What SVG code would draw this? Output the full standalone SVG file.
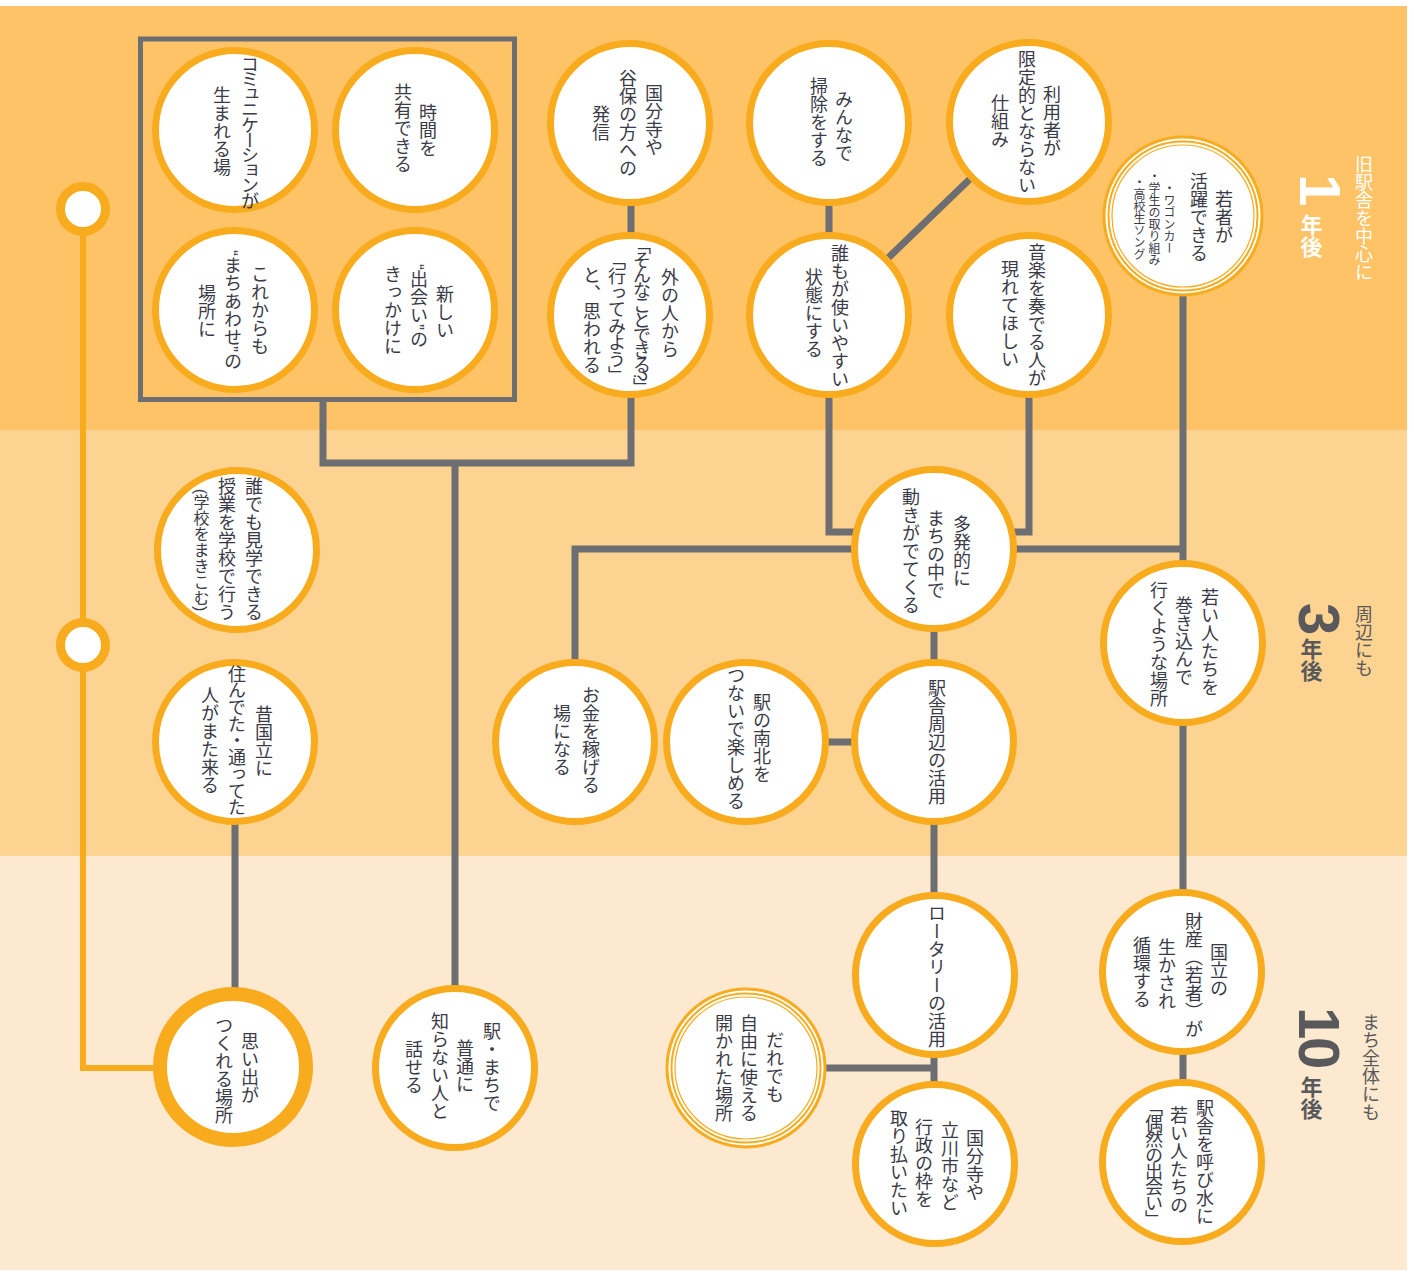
<svg xmlns="http://www.w3.org/2000/svg" width="1414" height="1276" viewBox="0 0 1414 1276">
<style>
.n{fill:#fff;stroke:#f8ab1d;stroke-width:7}
.d{fill:none;stroke:#f8ab1d}
.t{font-family:"Liberation Sans","Noto Sans CJK JP",sans-serif;font-size:18px;fill:#3b3b48;writing-mode:vertical-rl;text-anchor:middle}
.s{font-size:12px}
.c{fill:none;stroke:#6d6e71;stroke-width:7}
.o{fill:none;stroke:#f8ab1d;stroke-width:6}
.lab{font-family:"Liberation Sans","Noto Sans CJK JP",sans-serif;writing-mode:vertical-rl;text-anchor:middle}
.dig{font-family:"Liberation Sans",sans-serif;font-weight:bold;font-size:58px}
</style>
<rect width="1414" height="1276" fill="#fff"/>
<g id="bands">
<rect x="0" y="6" width="1407" height="424" fill="#fdc366"/>
<rect x="0" y="430" width="1407" height="426" fill="#fdd391"/>
<rect x="0" y="856" width="1407" height="414" fill="#fde9cf"/>
</g>
<g id="connectors">
<path class="o" d="M83,209 V1068 H200"/>
<rect x="140.5" y="39" width="374" height="360.5" fill="none" stroke="#6d6e71" stroke-width="5"/>
<path class="c" d="M323,402 V463 H631 V315"/>
<path class="c" d="M455,463 V1068"/>
<path class="c" d="M631,123 V315"/>
<path class="c" d="M829,123 V315"/>
<path class="c" d="M1029,122 L829,315"/>
<path class="c" d="M829,315 V532 H934"/>
<path class="c" d="M1029,315 V532 H934"/>
<path class="c" d="M575,742 V549 H1183"/>
<path class="c" d="M1183,216 V1162"/>
<path class="c" d="M934,548 V1164"/>
<path class="c" d="M746,742 H934"/>
<path class="c" d="M746,1068 H934"/>
<path class="c" d="M235,742 V1067"/>
</g>
<g id="marker-1"><circle cx="83" cy="209" r="22.5" fill="#fff" stroke="#f8ab1d" stroke-width="9"/></g>
<g id="marker-3"><circle cx="83" cy="645" r="22.5" fill="#fff" stroke="#f8ab1d" stroke-width="9"/></g>

<g id="n-jikan"><circle class="n" cx="415" cy="130" r="79.5"/>
<text class="t" x="426" y="130">時間を</text><text class="t" x="401" y="128">共有できる</text></g>
<g id="n-comm"><circle class="n" cx="235" cy="130" r="79.5"/>
<text class="t" x="248" y="131" style="letter-spacing:-2.8px">コミュニケーションが</text><text class="t" x="220" y="131">生まれる場</text></g>
<g id="n-deai"><circle class="n" cx="415" cy="310" r="79.5"/>
<text class="t" x="443" y="312">新しい</text><text class="t" x="417" y="306">“出会い”の</text><text class="t" x="391" y="310">きっかけに</text></g>
<g id="n-machiawase"><circle class="n" cx="235" cy="310" r="79.5"/>
<text class="t" x="258" y="310">これからも</text><text class="t" x="231" y="310">“まちあわせ”の</text><text class="t" x="205" y="311">場所に</text></g>
<g id="n-hasshin"><circle class="n" cx="630" cy="123" r="79.5"/>
<text class="t" x="652" y="120">国分寺や</text><text class="t" x="626" y="123">谷保の方への</text><text class="t" x="599" y="123">発信</text></g>
<g id="n-soto"><circle class="n" cx="630" cy="315" r="79.5"/>
<text class="t" x="668" y="313">外の人から</text><text class="t" x="640" y="315" style="letter-spacing:-3px">「そんなことできる?」</text><text class="t" x="615" y="317" style="letter-spacing:-1.5px">「行ってみよう」</text><text class="t" x="590" y="320">と、思われる</text></g>
<g id="n-souji"><circle class="n" cx="829" cy="123" r="79.5"/>
<text class="t" x="842" y="126">みんなで</text><text class="t" x="817" y="122">掃除をする</text></g>
<g id="n-tsukai"><circle class="n" cx="829" cy="315" r="79.5"/>
<text class="t" x="838" y="316">誰もが使いやすい</text><text class="t" x="812" y="313">状態にする</text></g>
<g id="n-riyou"><circle class="n" cx="1029" cy="122" r="79.5"/>
<text class="t" x="1050" y="121">利用者が</text><text class="t" x="1025" y="122">限定的とならない</text><text class="t" x="998" y="121">仕組み</text></g>
<g id="n-ongaku"><circle class="n" cx="1029" cy="315" r="79.5"/>
<text class="t" x="1035" y="315">音楽を奏でる人が</text><text class="t" x="1008" y="314">現れてほしい</text></g>
<g id="n-wakamono"><circle cx="1183" cy="216" r="79" fill="#fff" stroke="#f8ab1d" stroke-width="3"/><circle class="d" cx="1183" cy="216" r="74.5" stroke-width="2"/><circle class="d" cx="1183" cy="216" r="71" stroke-width="1.2"/>
<text class="t" x="1222" y="217">若者が</text><text class="t" x="1197" y="217">活躍できる</text>
<text class="t s" x="1168" y="218">・ワゴンカー</text><text class="t s" x="1153" y="218">・学生の取り組み</text><text class="t s" x="1138" y="218">・高校生ソング</text></g>

<g id="n-kengaku"><circle class="n" cx="237" cy="550" r="79.5"/>
<text class="t" x="252" y="549">誰でも見学できる</text><text class="t" x="225" y="549">授業を学校で行う</text><text class="t" x="200" y="550" style="font-size:16px">(学校をまきこむ)</text></g>
<g id="n-mukashi"><circle class="n" cx="235" cy="742" r="79.5"/>
<text class="t" x="262" y="741">昔国立に</text><text class="t" x="235" y="740" style="letter-spacing:-1.3px">住んでた・通ってた</text><text class="t" x="208" y="740">人がまた来る</text></g>
<g id="n-tahatsu"><circle class="n" cx="934" cy="549" r="79.5"/>
<text class="t" x="960" y="551">多発的に</text><text class="t" x="934" y="554">まちの中で</text><text class="t" x="909" y="551">動きがでてくる</text></g>
<g id="n-ekisha"><circle class="n" cx="934" cy="742" r="79.5"/>
<text class="t" x="935" y="742">駅舎周辺の活用</text></g>
<g id="n-nanboku"><circle class="n" cx="746" cy="742" r="79.5"/>
<text class="t" x="760" y="738">駅の南北を</text><text class="t" x="734" y="738">つないで楽しめる</text></g>
<g id="n-okane"><circle class="n" cx="575" cy="742" r="79.5"/>
<text class="t" x="589" y="740">お金を稼げる</text><text class="t" x="560" y="740">場になる</text></g>
<g id="n-wakai"><circle class="n" cx="1183" cy="643" r="79.5"/>
<text class="t" x="1208" y="642">若い人たちを</text><text class="t" x="1182" y="641">巻き込んで</text><text class="t" x="1157" y="644">行くような場所</text></g>

<g id="n-omoide"><circle cx="233" cy="1067" r="73" fill="#fff" stroke="#f8ab1d" stroke-width="14"/>
<text class="t" x="248" y="1068">思い出が</text><text class="t" x="222" y="1070">つくれる場所</text></g>
<g id="n-hanaseru"><circle class="n" cx="455" cy="1068" r="79.5"/>
<text class="t" x="490" y="1067">駅・まちで</text><text class="t" x="463" y="1066">普通に</text><text class="t" x="438" y="1066">知らない人と</text><text class="t" x="412" y="1067">話せる</text></g>
<g id="n-rotary"><circle class="n" cx="935" cy="975" r="79.5"/>
<text class="t" x="935" y="976">ロータリーの活用</text></g>
<g id="n-gyousei"><circle class="n" cx="935" cy="1164" r="79.5"/>
<text class="t" x="973" y="1165">国分寺や</text><text class="t" x="948" y="1166">立川市など</text><text class="t" x="922" y="1163">行政の枠を</text><text class="t" x="897" y="1163">取り払いたい</text></g>
<g id="n-hirakareta"><circle cx="746" cy="1068" r="79" fill="#fff" stroke="#f8ab1d" stroke-width="3"/><circle class="d" cx="746" cy="1068" r="74.5" stroke-width="2"/><circle class="d" cx="746" cy="1068" r="71" stroke-width="1.2"/>
<text class="t" x="773" y="1067">だれでも</text><text class="t" x="747" y="1068">自由に使える</text><text class="t" x="722" y="1068">開かれた場所</text></g>
<g id="n-zaisan"><circle class="n" cx="1182" cy="972" r="79.5"/>
<text class="t" x="1217" y="970">国立の</text><text class="t" x="1192" y="975">財産（若者）が</text><text class="t" x="1165" y="974">生かされ</text><text class="t" x="1140" y="972">循環する</text></g>
<g id="n-yobimizu"><circle class="n" cx="1182" cy="1162" r="79.5"/>
<text class="t" x="1203" y="1162">駅舎を呼び水に</text><text class="t" x="1177" y="1160">若い人たちの</text><text class="t" x="1152" y="1162" style="letter-spacing:-2px">「偶然の出会い」</text></g>

<g id="year-1">
<text class="lab" x="1362" y="218" style="font-size:18px;fill:#fff">旧駅舎を中心に</text>
<text class="dig" transform="translate(1300,174) rotate(90)" fill="#fff">1</text>
<text class="lab" x="1309" y="236" style="font-size:22px;font-weight:bold;fill:#fff">年後</text>
</g>
<g id="year-3">
<text class="lab" x="1362" y="641" style="font-size:18px;fill:#59595b">周辺にも</text>
<text class="dig" transform="translate(1299,603) rotate(90)" fill="#59595b">3</text>
<text class="lab" x="1309" y="660" style="font-size:22px;font-weight:bold;fill:#59595b">年後</text>
</g>
<g id="year-10">
<text class="lab" x="1369" y="1067" style="font-size:18px;fill:#59595b">まち全体にも</text>
<text class="dig" transform="translate(1299,1007) rotate(90)" fill="#59595b">1</text>
<text class="dig" transform="translate(1299,1037) rotate(90)" fill="#59595b">0</text>
<text class="lab" x="1309" y="1098" style="font-size:22px;font-weight:bold;fill:#59595b">年後</text>
</g>
</svg>
